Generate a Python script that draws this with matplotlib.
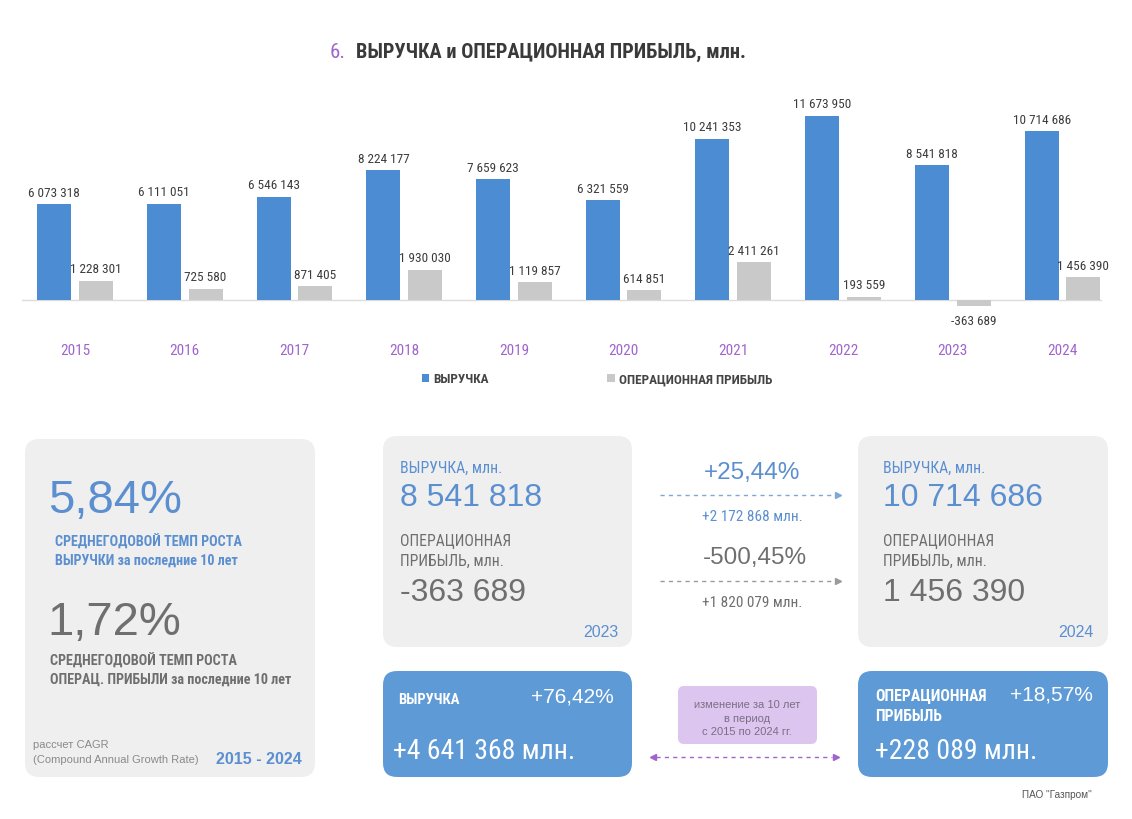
import matplotlib.pyplot as plt
from matplotlib.patches import FancyBboxPatch

plt.rcParams['font.family'] = ['Roboto Condensed', 'Liberation Sans Narrow', 'Roboto', 'DejaVu Sans']
REG = ['Liberation Sans', 'DejaVu Sans']

# данные
years = ['2015', '2016', '2017', '2018', '2019', '2020', '2021', '2022', '2023', '2024']
revenue = [6073318, 6111051, 6546143, 8224177, 7659623, 6321559, 10241353, 11673950, 8541818, 10714686]
op_profit = [1228301, 725580, 871405, 1930030, 1119857, 614851, 2411261, 193559, -363689, 1456390]

cagr_revenue = '5,84%'
cagr_profit = '1,72%'
yoy_revenue_pct = '+25,44%'
yoy_revenue_abs = 2172868
yoy_profit_pct = '-500,45%'
yoy_profit_abs = 1820079
dec_revenue_pct = '+76,42%'
dec_revenue_abs = 4641368
dec_profit_pct = '+18,57%'
dec_profit_abs = 228089

BLUE = '#4b8cd2'
BLUE_TXT = '#5b8fcf'
GRAY_BAR = '#c9c9c9'
GRAY_TXT = '#6f6f6f'
PURPLE = '#a065cc'
PANEL = '#efeff0'


def fmt(v):
    s = f'{abs(v):,}'.replace(',', ' ')
    return ('-' if v < 0 else '') + s


fig = plt.figure(figsize=(11.32, 8.2), dpi=100)
W, H = 1132, 820

# ---- столбчатая диаграмма ----
ax = fig.add_axes([22 / W, 1 - 340 / H, 1080 / W, 250 / H])
x = list(range(len(years)))
bw = 0.31
b1 = ax.bar([i - 0.19 for i in x], revenue, bw, color=BLUE, label='ВЫРУЧКА', zorder=2)
b2 = ax.bar([i + 0.19 for i in x], op_profit, bw, color=GRAY_BAR, label='ОПЕРАЦИОННАЯ ПРИБЫЛЬ', zorder=2)
ax.axhline(0, color='#dcdcdc', lw=1, zorder=1)
ax.set_xlim(-0.483, 9.36)
ax.set_ylim(-2.47e6, 13.39e6)
for s in ax.spines.values():
    s.set_visible(False)
ax.set_yticks([])
ax.set_xticks(x)
ax.set_xticklabels(years, color=PURPLE, fontsize=11)
ax.tick_params(axis='x', length=0, pad=3)

for bars in (b1, b2):
    for r in bars:
        v = r.get_height()
        cx = r.get_x() + r.get_width() / 2
        if v >= 0:
            ax.annotate(fmt(int(v)), (cx, v), xytext=(0, 4), textcoords='offset points',
                        ha='center', va='bottom', fontsize=9.5, color='#3c3c3c')
        else:
            ax.annotate(fmt(int(v)), (cx, v), xytext=(0, -6), textcoords='offset points',
                        ha='center', va='top', fontsize=9.5, color='#3c3c3c')

fig.legend(handles=[b1, b2], loc='center', bbox_to_anchor=(597 / W, 1 - 380 / H),
           ncol=2, frameon=False, handlelength=0.55, handleheight=0.55, handletextpad=0.3,
           columnspacing=9, prop={'size': 9.5, 'weight': 'bold'}, labelcolor='#444444')

# ---- инфографика ----
ov = fig.add_axes([0, 0, 1, 1])
ov.set_xlim(0, W)
ov.set_ylim(H, 0)
ov.axis('off')

fig.text(330 / W, 1 - 52 / H, '6.', color=PURPLE, fontsize=15, va='center')
fig.text(356 / W, 1 - 52 / H, 'ВЫРУЧКА и ОПЕРАЦИОННАЯ ПРИБЫЛЬ, млн.', color='#3a3a3a',
         fontsize=14.7, fontweight='bold', va='center')


def box(x0, y0, x1, y1, color, r=14):
    ov.add_patch(FancyBboxPatch((x0, y0), x1 - x0, y1 - y0,
                                boxstyle=f'round,pad=0,rounding_size={r}',
                                fc=color, ec='none'))


def t(xp, yp, s, **kw):
    kw.setdefault('va', 'center')
    ov.text(xp, yp, s, **kw)


# левая панель
box(25, 440, 315, 778, PANEL)
t(48, 501, cagr_revenue, fontsize=34, color=BLUE_TXT, family=REG)
t(55, 542, 'СРЕДНЕГОДОВОЙ ТЕМП РОСТА', fontsize=10.2, fontweight='bold', color=BLUE_TXT)
t(55, 561, 'ВЫРУЧКИ за последние 10 лет', fontsize=10.2, fontweight='bold', color=BLUE_TXT)
t(47, 623, cagr_profit, fontsize=34, color=GRAY_TXT, family=REG)
t(50, 661, 'СРЕДНЕГОДОВОЙ ТЕМП РОСТА', fontsize=10.2, fontweight='bold', color=GRAY_TXT)
t(50, 680, 'ОПЕРАЦ. ПРИБЫЛИ за последние 10 лет', fontsize=10.2, fontweight='bold', color=GRAY_TXT)
t(33, 745, 'рассчет CAGR', fontsize=8, color='#8a8a8a', family=REG)
t(33, 760, '(Compound Annual Growth Rate)', fontsize=8, color='#8a8a8a', family=REG)
t(302, 760, f'{years[0]} - {years[-1]}', fontsize=11.5, fontweight='bold', color=BLUE_TXT,
  ha='right', family=REG)

# панели 2023 и 2024
for (x0, x1, tx, i) in [(383, 632, 400, 8), (858, 1108, 883, 9)]:
    box(x0, 437, x1, 648, PANEL)
    t(tx, 468, 'ВЫРУЧКА, млн.', fontsize=11.3, color=BLUE_TXT)
    t(tx, 498, fmt(revenue[i]), fontsize=23, color=BLUE_TXT, family=REG)
    t(tx, 542, 'ОПЕРАЦИОННАЯ', fontsize=11.3, color=GRAY_TXT)
    t(tx, 561, 'ПРИБЫЛЬ, млн.', fontsize=11.3, color=GRAY_TXT)
    t(tx, 593, fmt(op_profit[i]), fontsize=23, color=GRAY_TXT, family=REG)
    t(x1 - 14, 633, years[i], fontsize=11.5, color=BLUE_TXT, ha='right', family=REG)

# стрелки изменения 2023 -> 2024
t(752, 473, yoy_revenue_pct, fontsize=17.5, color=BLUE_TXT, ha='center', family=REG)
ov.plot([660, 836], [496, 496], ls=(0, (3, 3)), color='#7fa8d8', lw=1)
ov.plot([838], [496], marker='>', ms=5, color='#7fa8d8')
t(752, 517, '+' + fmt(yoy_revenue_abs) + ' млн.', fontsize=11, color=BLUE_TXT, ha='center')
t(755, 558, yoy_profit_pct, fontsize=17.5, color=GRAY_TXT, ha='center', family=REG)
ov.plot([660, 836], [582, 582], ls=(0, (3, 3)), color='#9a9a9a', lw=1)
ov.plot([838], [582], marker='>', ms=5, color='#9a9a9a')
t(752, 603, '+' + fmt(yoy_profit_abs) + ' млн.', fontsize=11, color=GRAY_TXT, ha='center')

# нижние синие панели
box(383, 672, 632, 778, '#5e9bd6')
t(398, 700, 'ВЫРУЧКА', fontsize=10.5, fontweight='bold', color='white')
t(614, 697, dec_revenue_pct, fontsize=15, color='white', ha='right', family=REG)
t(393, 752, '+' + fmt(dec_revenue_abs) + ' млн.', fontsize=20, color='white')

box(858, 672, 1108, 778, '#5e9bd6')
t(875, 697, 'ОПЕРАЦИОННАЯ', fontsize=11.3, fontweight='bold', color='white')
t(875, 717, 'ПРИБЫЛЬ', fontsize=11.3, fontweight='bold', color='white')
t(1093, 695, dec_profit_pct, fontsize=15, color='white', ha='right', family=REG)
t(875, 752, '+' + fmt(dec_profit_abs) + ' млн.', fontsize=20, color='white')

# фиолетовая подпись
box(678, 687, 817, 745, '#dcc6ef', r=6)
t(747, 705, 'изменение за 10 лет', fontsize=8, color='#7a6e84', ha='center', family=REG)
t(747, 719, 'в период', fontsize=8, color='#7a6e84', ha='center', family=REG)
t(747, 732, f'с {years[0]} по {years[-1]} гг.', fontsize=8, color='#7a6e84', ha='center', family=REG)
ov.plot([656, 832], [758, 758], ls=(0, (3, 3)), color=PURPLE, lw=1)
ov.plot([653], [758], marker='<', ms=5, color=PURPLE)
ov.plot([836], [758], marker='>', ms=5, color=PURPLE)

t(1092, 795, 'ПАО "Газпром"', fontsize=7.2, color='#555555', ha='right', family=REG)

fig.savefig('out.png', dpi=100)
